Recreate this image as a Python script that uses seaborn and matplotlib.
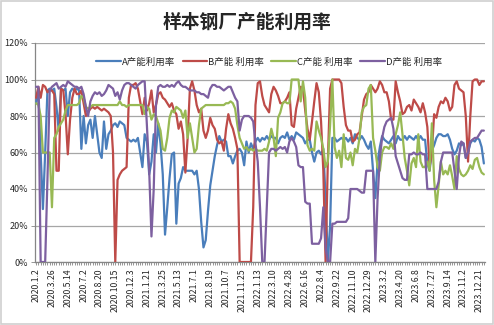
import numpy as np
import pandas as pd
import matplotlib
matplotlib.use("Agg")
import matplotlib.pyplot as plt
import seaborn as sns
from matplotlib.ticker import FuncFormatter

# ---------------- data ----------------
tick_labels = ["2020.1.2", "2020.3.26", "2020.5.14", "2020.7.2", "2020.8.20", "2020.10.15",
               "2020.12.3", "2021.1.21", "2021.3.25", "2021.5.13", "2021.7.1", "2021.8.19",
               "2021.10.7", "2021.11.25", "2022.1.13", "2022.3.10", "2022.4.28", "2022.6.16",
               "2022.8.4", "2022.9.22", "2022.11.10", "2022.12.29", "2023.3.2", "2023.4.20",
               "2023.6.8", "2023.7.27", "2023.9.14", "2023.11.2", "2023.12.21"]

series_names = ["A产能利用率", "B产能 利用率", "C产能 利用率", "D产能 利用率"]

a_vals = [87, 95, 60, 29, 60, 94, 95, 94, 95, 85, 72, 95, 94, 95, 80, 93, 95, 94, 95, 94,
          62, 80, 65, 75, 78, 68, 80, 70, 60, 57, 77, 62, 70, 72, 75, 76, 74, 77, 76, 75,
          68, 67, 66, 67, 66, 68, 60, 52, 70, 66, 48, 55, 70, 60, 76, 65, 48, 15, 30, 46,
          59, 60, 21, 43, 46, 52, 50, 50, 50, 50, 48, 50, 40, 22, 8, 12, 28, 42, 50, 58,
          64, 69, 66, 67, 66, 58, 58, 54, 58, 61, 62, 60, 53, 66, 60, 65, 62, 66, 68, 66,
          68, 67, 69, 67, 69, 68, 68, 65, 68, 69, 68, 71, 67, 69, 67, 71, 70, 69, 68, 65,
          67, 67, 60, 55, 60, 61, 59, 62, 35, 0, 20, 68, 68, 66, 67, 68, 67, 68, 66, 68,
          65, 70, 68, 67, 69, 67, 64, 62, 66, 50, 35, 55, 63, 69, 67, 66, 65, 67, 69, 65,
          69, 67, 67, 69, 67, 69, 68, 67, 69, 67, 69, 67, 67, 54, 50, 61, 64, 68, 70, 70,
          69, 69, 70, 67, 62, 59, 61, 65, 64, 65, 57, 60, 65, 67, 66, 68, 67, 63, 54]

b_vals = [90, 96, 90, 97, 96, 93, 94, 94, 92, 50, 50, 95, 94, 81, 59, 78, 90, 95, 92, 92,
          94, 87, 80, 82, 84, 85, 84, 85, 84, 83, 84, 83, 82, 80, 60, 0, 45, 48, 50, 51,
          52, 90, 97, 97, 98, 95, 88, 81, 90, 83, 87, 94, 82, 86, 92, 93, 90, 89, 87, 85,
          87, 83, 81, 73, 77, 70, 49, 68, 95, 99, 94, 86, 82, 84, 72, 68, 72, 79, 75, 73,
          67, 65, 66, 61, 73, 81, 76, 73, 68, 62, 0, 0, 0, 0, 0, 0, 30, 86, 98, 99,
          91, 86, 84, 82, 92, 96, 94, 91, 87, 87, 88, 90, 93, 75, 74, 84, 90, 96, 95, 83,
          73, 67, 77, 88, 98, 93, 77, 50, 0, 55, 95, 100, 100, 100, 100, 98, 85, 75, 72, 72,
          66, 67, 70, 71, 80, 89, 92, 93, 97, 95, 93, 95, 99, 97, 93, 93, 88, 78, 78, 99,
          93, 88, 81, 82, 85, 86, 83, 89, 87, 85, 82, 87, 82, 74, 52, 60, 81, 79, 85, 88,
          87, 90, 88, 83, 85, 97, 99, 95, 94, 93, 80, 55, 80, 99, 100, 100, 97, 99, 99]

c_vals = [87, 86, 80, 60, 60, 60, 60, 30, 68, 70, 74, 76, 78, 83, 86, 86, 86, 86, 86, 87,
          91, 90, 85, 84, 85, 86, 86, 86, 86, 86, 86, 86, 86, 86, 86, 86, 86, 88, 86, 86,
          85, 86, 86, 86, 86, 86, 86, 86, 81, 85, 84, 78, 81, 80, 76, 72, 62, 61, 68, 79,
          83, 82, 85, 84, 83, 79, 83, 68, 76, 68, 60, 62, 75, 84, 85, 86, 86, 86, 86, 86,
          86, 86, 86, 86, 87, 87, 88, 87, 84, 75, 68, 65, 62, 63, 61, 62, 61, 62, 61, 61,
          61, 62, 61, 66, 73, 68, 58, 79, 82, 87, 88, 87, 87, 100, 100, 100, 100, 88, 99, 90,
          64, 61, 62, 61, 77, 72, 68, 62, 52, 55, 75, 100, 63, 57, 61, 52, 70, 57, 56, 60,
          53, 62, 60, 68, 82, 85, 86, 95, 97, 68, 61, 52, 50, 60, 63, 63, 62, 65, 62, 70,
          75, 82, 70, 57, 50, 42, 54, 57, 52, 70, 55, 52, 52, 55, 50, 76, 45, 30, 42, 55,
          48, 50, 48, 53, 47, 40, 58, 51, 48, 47, 48, 50, 53, 51, 56, 57, 52, 49, 48]

d_vals = [96, 96, 0, 0, 0, 45, 94, 96, 97, 98, 95, 96, 97, 96, 99, 98, 97, 96, 96, 95,
          96, 92, 85, 80, 88, 91, 93, 92, 93, 91, 92, 94, 97, 96, 95, 91, 93, 89, 94, 97,
          98, 98, 97, 96, 95, 97, 98, 99, 99, 75, 50, 14, 40, 86, 96, 97, 96, 96, 97, 96,
          97, 96, 98, 99, 97, 96, 96, 95, 94, 94, 94, 93, 93, 92, 92, 91, 90, 95, 97, 97,
          96, 96, 95, 94, 95, 96, 96, 93, 90, 88, 72, 78, 80, 80, 80, 79, 77, 65, 55, 30,
          0, 0, 30, 60, 62, 62, 61, 62, 63, 62, 63, 60, 66, 68, 66, 63, 53, 52, 52, 33,
          32, 32, 10, 10, 10, 10, 13, 30, 8, 0, 0, 21, 21, 22, 22, 22, 22, 22, 24, 40,
          40, 40, 40, 39, 38, 38, 50, 50, 50, 50, 0, 35, 57, 68, 74, 77, 78, 79, 73, 58,
          54, 50, 46, 45, 45, 59, 59, 60, 59, 59, 60, 59, 59, 40, 40, 40, 40, 40, 44, 55,
          60, 60, 60, 60, 60, 50, 40, 58, 66, 65, 57, 60, 66, 67, 68, 68, 70, 72, 72]

colors = ["#4a7ebb", "#be4b48", "#98b954", "#7d60a0"]

# ---------------- build table ----------------
n = len(a_vals)
frames = []
for name, vals in zip(series_names, [a_vals, b_vals, c_vals, d_vals]):
    frames.append(pd.DataFrame({"idx": np.arange(len(vals)), "value": vals, "series": name}))
df = pd.concat(frames, ignore_index=True)

# ---------------- plot ----------------
sns.set_style("white")
plt.rcParams['font.family'] = ['Noto Sans CJK SC', 'DejaVu Sans']

fig = plt.figure(figsize=(4.94, 3.25), dpi=100)
ax = fig.add_axes([35 / 494, 1 - 262 / 325, 450 / 494, 219 / 325])

sns.lineplot(data=df, x="idx", y="value", hue="series", palette=colors,
             linewidth=1.6, ax=ax, legend=True, zorder=3)

ax.set_xlim(-0.5, n - 0.5)
ax.set_ylim(0, 120)
ax.set_yticks(np.arange(0, 121, 20))
ax.yaxis.set_major_formatter(FuncFormatter(lambda v, p: f"{int(v)}%"))
ax.grid(axis="y", color="#a6a6a6", linewidth=0.9, zorder=0)
ax.grid(axis="x", visible=False)

tick_pos = np.arange(0, 7 * len(tick_labels), 7)
ax.set_xticks(tick_pos)
ax.set_xticklabels(tick_labels, rotation=90, fontsize=6.3)
ax.set_xticks(np.arange(n), minor=True)
ax.tick_params(axis="x", which="both", direction="out", length=2.5, width=0.6,
               color="#868686", pad=2, bottom=True)
ax.tick_params(axis="y", direction="out", length=3, width=0.6, color="#868686",
               labelsize=6.5, pad=2, left=True)
ax.set_xlabel("")
ax.set_ylabel("")

for s in ["top", "right"]:
    ax.spines[s].set_visible(False)
for s in ["left", "bottom"]:
    ax.spines[s].set_color("#868686")
    ax.spines[s].set_linewidth(0.9)

handles, labels = ax.get_legend_handles_labels()
ax.legend(handles, labels, loc="center", bbox_to_anchor=((269 - 35) / 450, 1 - (62 - 43) / 219),
          ncol=4, frameon=False, fontsize=6.8, handlelength=2.6, handletextpad=0.1,
          columnspacing=0.8)

fig.text(0.5, 1 - 22 / 325, "样本钢厂产能利用率", ha="center", va="center",
         fontsize=13.5, fontweight="bold")

fig.patches.append(plt.Rectangle((0.002, 0.003), 0.996, 0.994, transform=fig.transFigure,
                                 fill=False, edgecolor="#d0d0d0", linewidth=1.2))

fig.savefig("out.png", dpi=100)
